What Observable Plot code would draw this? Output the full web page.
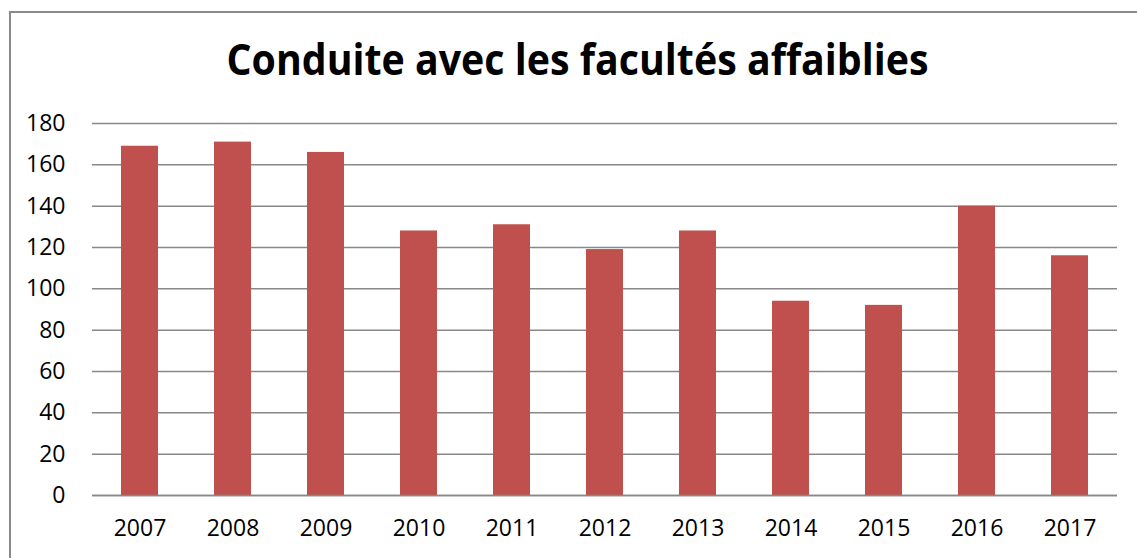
<!DOCTYPE html>
<html>
<head>
<meta charset="utf-8">
<script src="https://cdn.jsdelivr.net/npm/d3@7"></script>
<script src="https://cdn.jsdelivr.net/npm/@observablehq/plot@0.6"></script>
<style>
  html, body { margin: 0; padding: 0; background: #fff; }
  #wrap { position: relative; width: 1137px; height: 558px; overflow: hidden; background: #fff; }
  #frame { position: absolute; left: 9px; top: 11px; width: 1200px; height: 600px;
           border-left: 2px solid #8a8a8a; border-top: 2px solid #8a8a8a; box-sizing: border-box; }
  #title { position: absolute; left: 0; top: 0; width: 1137px; height: 90px; }
  #chart { position: absolute; left: 0; top: 90px; }
  #chart svg { overflow: visible; }
</style>
</head>
<body>
<div id="wrap">
  <div id="frame"></div>
  <div id="title">
    <svg width="1137" height="90" xmlns="http://www.w3.org/2000/svg">
      <text x="577.5" y="75" text-anchor="middle" font-family="'Open Sans', sans-serif" font-weight="bold" font-size="43" textLength="702" lengthAdjust="spacingAndGlyphs" fill="#000">Conduite avec les facultés affaiblies</text>
    </svg>
  </div>
  <div id="chart"></div>
</div>
<script>
const years = ["2007","2008","2009","2010","2011","2012","2013","2014","2015","2016","2017"];
const values = [169, 171, 166, 128, 131, 119, 128, 94, 92, 140, 116];
const yTicks = [0, 20, 40, 60, 80, 100, 120, 140, 160, 180];

const data = years.map((y, i) => ({year: y, value: values[i]}));

const plot = Plot.plot({
  width: 1137,
  height: 468,
  marginTop: 33,
  marginBottom: 63,
  marginLeft: 92,
  marginRight: 20,
  style: { fontFamily: "'Open Sans', sans-serif", fontSize: "23px", color: "#000", background: "transparent" },
  x: { domain: years, paddingInner: 0.6, paddingOuter: 0.3, label: null },
  y: { domain: [0, 180], label: null },
  marks: [
    Plot.ruleY(yTicks, { stroke: "#888", strokeWidth: 1.5 }),
    Plot.barY(data, { x: "year", y: "value", fill: "#C0504D" }),
    Plot.ruleY([0], { stroke: "#888", strokeWidth: 1.5 }),
    Plot.axisY({ ticks: yTicks, tickSize: 0, tickPadding: 27, label: null, fontSize: 23 }),
    Plot.axisX({ tickSize: 0, tickPadding: 24, label: null, fontSize: 23 })
  ]
});
document.getElementById("chart").appendChild(plot);
</script>
</body>
</html>
